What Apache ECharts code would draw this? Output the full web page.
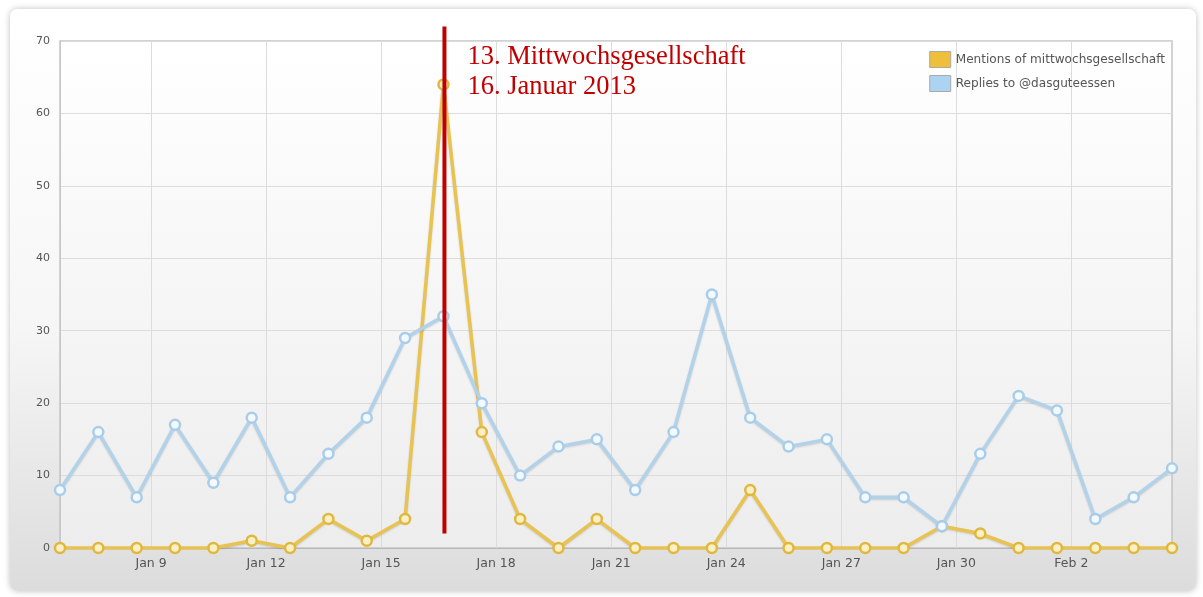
<!DOCTYPE html>
<html><head><meta charset="utf-8">
<script src="https://cdn.jsdelivr.net/npm/echarts@6/dist/echarts.min.js"></script>
<style>
html,body{margin:0;padding:0;background:#fff;width:1203px;height:597px;overflow:hidden;}
#card{position:absolute;left:10px;top:9px;width:1186px;height:582px;border-radius:8px;
background:linear-gradient(#ffffff 0%,#f6f6f6 55%,#dcdcdc 100%);
box-shadow:0 0 6px rgba(0,0,0,0.25);}
#chart{position:absolute;left:0;top:0;width:1203px;height:597px;}
</style></head>
<body><div id="card"></div><div id="chart"></div>
<script>
// Daily points, Jan 7 .. Feb 5 2013
const days = ['Jan 7','Jan 8','Jan 9','Jan 10','Jan 11','Jan 12','Jan 13','Jan 14','Jan 15','Jan 16',
  'Jan 17','Jan 18','Jan 19','Jan 20','Jan 21','Jan 22','Jan 23','Jan 24','Jan 25','Jan 26',
  'Jan 27','Jan 28','Jan 29','Jan 30','Jan 31','Feb 1','Feb 2','Feb 3','Feb 4','Feb 5'];
const mentions = [0,0,0,0,0,1,0,4,1,4,64,16,4,0,4,0,0,0,8,0,0,0,0,3,2,0,0,0,0,0];
const replies  = [8,16,7,17,9,18,7,13,18,29,32,20,10,14,15,8,16,35,18,14,15,7,7,3,13,21,19,4,7,11];
const seriesNames = ['Mentions of mittwochsgesellschaft','Replies to @dasguteessen'];
// tick positions in "day of January" units (Feb 2 = 33); first point Jan 7 shown at day 6.625
const tickDays   = [9,12,15,18,21,24,27,30,33];
const tickLabels = ['Jan 9','Jan 12','Jan 15','Jan 18','Jan 21','Jan 24','Jan 27','Jan 30','Feb 2'];
const annotation = ['13. Mittwochsgesellschaft','16. Januar 2013'];
const eventIndex = 10;

const dayStart = 6.625;
const chart = echarts.init(document.getElementById('chart'));
const labelMap = {};
tickDays.forEach((d,i)=>labelMap[d]=tickLabels[i]);

const option = {
  backgroundColor: 'transparent',
  animation: false,
  grid: {left:60, right:31, top:41, bottom:49, show:true, borderColor:'#c4c4c4', borderWidth:1.5,
    backgroundColor: new echarts.graphic.LinearGradient(0,0,0,1,[{offset:0,color:'#ffffff'},{offset:1,color:'#ededed'}])},
  legend: {
    right: 33, top: 46, orient: 'vertical', itemWidth: 21, itemHeight: 16, itemGap: 7,
    icon: 'rect', textStyle: {color:'#555', fontSize:12.1, fontFamily:'DejaVu Sans'},
    data: [
      {name: seriesNames[0], itemStyle:{color:'#efbe3a', borderColor:'#aaa', borderWidth:1}},
      {name: seriesNames[1], itemStyle:{color:'#acd3f2', borderColor:'#aaa', borderWidth:1}}
    ]
  },
  xAxis: [
    {type:'category', data: days, boundaryGap:false, axisLine:{show:false}, axisTick:{show:false},
     axisLabel:{show:false}, splitLine:{show:false}},
    {type:'value', min: dayStart, max: dayStart + days.length - 1, position:'bottom',
     axisLine:{show:true, lineStyle:{color:'#b8b8b8'}}, axisTick:{show:false, customValues: tickDays},
     axisLabel:{customValues: tickDays, formatter: v => labelMap[Math.round(v)] || '', color:'#555', fontSize:12.5, fontFamily:'DejaVu Sans', margin:9},
     splitLine:{show:true, lineStyle:{color:'#dcdcdc', width:1}}}
  ],
  yAxis: {type:'value', min:0, max:70, interval:10,
    axisLine:{show:true, lineStyle:{color:'#c8c8c8'}}, axisTick:{show:false},
    axisLabel:{color:'#555', fontSize:11, fontFamily:'DejaVu Sans', margin:10},
    splitLine:{lineStyle:{color:'#dcdcdc'}}},
  series: [
    {name: seriesNames[0], type:'line', xAxisIndex:0, data: mentions, symbol:'circle', symbolSize:10,
     lineStyle:{color:'#e8c352', width:3.5, shadowColor:'rgba(0,0,0,0.15)', shadowBlur:2, shadowOffsetY:1},
     itemStyle:{color:'#fbf0c4', borderColor:'#e0b840', borderWidth:2.5}, z:2},
    {name: seriesNames[1], type:'line', xAxisIndex:0, data: replies, symbol:'circle', symbolSize:10,
     lineStyle:{color:'#b2d2ea', width:3.5, shadowColor:'rgba(0,0,0,0.15)', shadowBlur:2, shadowOffsetY:1},
     itemStyle:{color:'#f2f9ff', borderColor:'#a9cde8', borderWidth:2.5}, z:3}
  ]
};
chart.setOption(option);

const pTop = chart.convertToPixel({xAxisIndex:0, yAxisIndex:0}, [eventIndex, 72]);
const pBot = chart.convertToPixel({xAxisIndex:0, yAxisIndex:0}, [eventIndex, 2]);
chart.setOption({
  graphic: [
    {type:'line', shape:{x1:pTop[0]+1, y1:pTop[1], x2:pBot[0]+1, y2:pBot[1]}, style:{stroke:'#c00000', lineWidth:4}, z:100},
    {type:'text', left: pTop[0]+24, top: 44, style:{text: annotation[0], fill:'#c00000', font:'26.5px "Liberation Serif"'}, z:100},
    {type:'text', left: pTop[0]+24, top: 74, style:{text: annotation[1], fill:'#c00000', font:'26.5px "Liberation Serif"'}, z:100}
  ]
});
</script></body></html>
